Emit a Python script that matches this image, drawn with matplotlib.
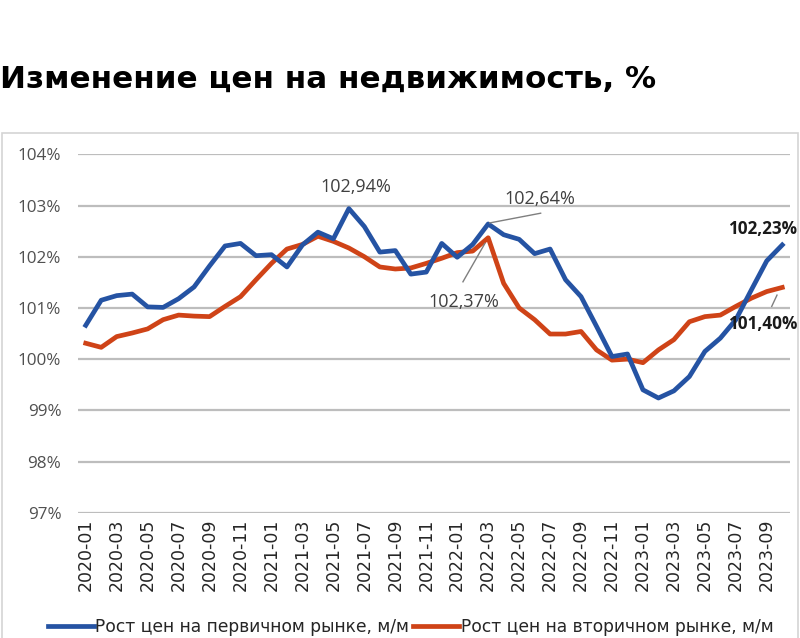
import matplotlib
matplotlib.use("Agg")
import matplotlib.pyplot as plt
from matplotlib.lines import Line2D
from matplotlib.patches import Rectangle

categories = ["2020-01","2020-02","2020-03","2020-04","2020-05","2020-06","2020-07","2020-08",
              "2020-09","2020-10","2020-11","2020-12","2021-01","2021-02","2021-03","2021-04",
              "2021-05","2021-06","2021-07","2021-08","2021-09","2021-10","2021-11","2021-12",
              "2022-01","2022-02","2022-03","2022-04","2022-05","2022-06","2022-07","2022-08",
              "2022-09","2022-10","2022-11","2022-12","2023-01","2023-02","2023-03","2023-04",
              "2023-05","2023-06","2023-07","2023-08","2023-09","2023-10"]

primary = [100.66, 101.15, 101.24, 101.27, 101.02, 101.01, 101.18, 101.41, 101.82, 102.21,
           102.26, 102.02, 102.04, 101.80, 102.23, 102.48, 102.35, 102.94, 102.59, 102.09,
           102.12, 101.66, 101.70, 102.26, 101.99, 102.24, 102.64, 102.43, 102.34, 102.06,
           102.15, 101.55, 101.22, 100.64, 100.05, 100.10, 99.40, 99.24, 99.38, 99.66,
           100.15, 100.41, 100.77, 101.35, 101.92, 102.23]

secondary = [100.31, 100.23, 100.44, 100.51, 100.59, 100.77, 100.86, 100.84, 100.83, 101.03,
             101.22, 101.55, 101.87, 102.15, 102.24, 102.40, 102.30, 102.17, 102.00, 101.80,
             101.76, 101.78, 101.87, 101.97, 102.08, 102.11, 102.37, 101.48, 101.00, 100.77,
             100.49, 100.49, 100.54, 100.18, 99.98, 100.00, 99.93, 100.18, 100.38, 100.73,
             100.83, 100.86, 101.03, 101.19, 101.32, 101.40]

y_ticks = [97, 98, 99, 100, 101, 102, 103, 104]
y_tick_labels = ["97%", "98%", "99%", "100%", "101%", "102%", "103%", "104%"]

title = "Изменение цен на недвижимость, %"
label_primary = "Рост цен на первичном рынке, м/м"
label_secondary = "Рост цен на вторичном рынке, м/м"

BLUE = "#2553A3"
RED = "#CF4317"
GRID = "#BDBDBD"

fig = plt.figure(figsize=(8, 6.38), dpi=100)
fig.patch.set_facecolor("white")

# chart frame
fig.add_artist(Rectangle((0.002, -0.05), 0.996, 0.7915 + 0.05, transform=fig.transFigure,
                         fill=False, edgecolor="#D4D4D4", linewidth=1.2))

ax = fig.add_axes([0.0975, 0.1964, 0.89, 0.5617])
x = list(range(len(categories)))
ax.set_xlim(-0.5, len(categories) - 0.5)
ax.set_ylim(97, 104)

for v in y_ticks:
    ax.axhline(v, color=GRID, linewidth=1.6, zorder=1)

ax.plot(x, primary, color=BLUE, linewidth=3.4, solid_joinstyle="round", zorder=3,
        label=label_primary)
ax.plot(x, secondary, color=RED, linewidth=3.4, solid_joinstyle="round", zorder=2,
        label=label_secondary)

for s in ax.spines.values():
    s.set_visible(False)

ax.set_yticks(y_ticks)
ax.set_yticklabels(y_tick_labels, fontsize=12.3, color="#505050", family="Open Sans")
ax.tick_params(axis="y", length=0, pad=12)

ax.set_xticks(x[::2])
ax.set_xticklabels(categories[::2], rotation=90, fontsize=12.5, color="#262626",
                   family="DejaVu Sans")
ax.tick_params(axis="x", length=0, pad=4)

# annotations
ann_kw = dict(fontsize=13, color="#404040", family="Open Sans", ha="center", va="center")
ax.text(17.46, 103.37, "102,94%", **ann_kw)
ax.text(29.35, 103.13, "102,64%", **ann_kw)
ax.plot([26.1, 29.39], [102.66, 102.85], color="#7F7F7F", linewidth=1.0, zorder=4)
ax.text(24.44, 101.12, "102,37%", **ann_kw)
ax.plot([24.37, 25.79], [101.51, 102.26], color="#7F7F7F", linewidth=1.0, zorder=4)
ax.text(41.5, 102.54, "102,23%", fontsize=12.3, color="#1A1A1A", family="Open Sans",
        fontweight="bold", ha="left", va="center", clip_on=False)
ax.text(41.5, 100.69, "101,40%", fontsize=12.3, color="#1A1A1A", family="Open Sans",
        fontweight="bold", ha="left", va="center", clip_on=False)
ax.plot([44.32, 44.66], [101.03, 101.25], color="#7F7F7F", linewidth=1.0, zorder=4)

# title
fig.text(0.0, 0.862, title, fontsize=22.3, fontweight="bold", family="DejaVu Sans",
         color="black", ha="left", va="baseline")

# legend
handles = [Line2D([0], [0], color=BLUE, linewidth=3.4),
           Line2D([0], [0], color=RED, linewidth=3.4)]
fig.legend(handles, [label_primary, label_secondary], loc="center",
           bbox_to_anchor=(0.513, 0.017), ncol=2, frameon=False,
           prop={"family": "DejaVu Sans", "size": 12.3},
           handlelength=2.7, handletextpad=0.1, columnspacing=0.2,
           labelcolor="#262626")

fig.savefig("out.png", dpi=100, facecolor="white")
